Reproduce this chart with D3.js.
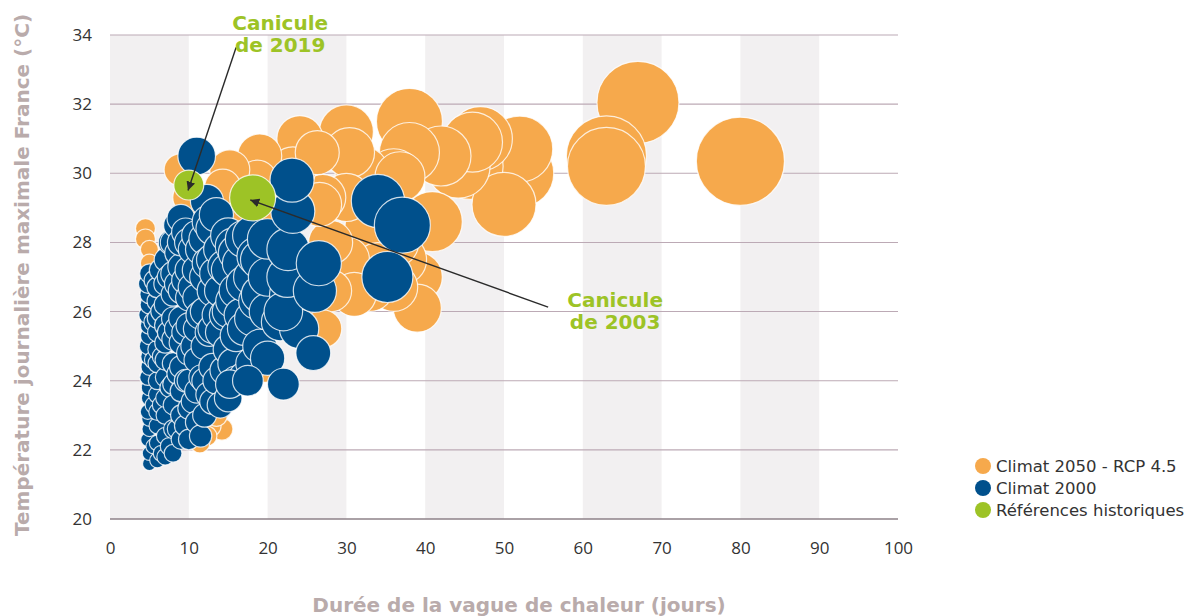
<!DOCTYPE html>
<html><head><meta charset="utf-8">
<script src="https://cdn.jsdelivr.net/npm/d3@7"></script>
<style>
html,body{margin:0;padding:0;background:#fff;}
svg{display:block;}
</style></head>
<body>
<svg id="chart" width="1189" height="616"></svg>
<script>
// ---- DATA ----
// [durée (jours), température max (°C), indice de sévérité (taille)]
const climat2050 = [
  [80,30.35,1150],[67,32.05,997],[63,30.5,950],[63,30.2,900],[52,30.7,646],[52,30.0,685],[50,29.1,607],
  [47,31.0,607],[46,30.9,534],[45.7,30.2,646],[44.2,30.2,600],[42,30.5,534],[40.9,28.6,534],
  [38,31.5,646],[38,30.6,534],[36.8,29.9,370],[36,29.9,465],[39,27.0,370],[39,26.1,342],[37,27.5,370],
  [36,28,370],[36,26.7,342],[34,27.3,342],[33,28.5,370],[33,26.7,342],[31,26.5,287],[32,30.0,432],
  [30,31.2,432],[30.4,30.6,370],[30,29.3,342],[30,27.5,314],[28,28,287],[28,26.6,261],[27,29.3,314],
  [27,25.5,214],[26.6,29.1,287],[26.3,30.6,287],[24.1,31.0,314],[24,26,237],[23.2,30.1,314],
  [20,29,237],[19,30.5,287],[18.7,29.8,237],[17,29,214],[15.2,30.1,237],[14.3,29.6,192],[12,28.8,171],
  [10,29.3,152],[8.9,30.1,152],
  [4.5,28.4,59],[4.5,28.1,59],[5,27.8,48],[5,27.4,48],
  [14.2,22.6,72],[12.7,22.7,72],[12.3,22.4,59],[11.4,22.2,59],[10,22.5,48],[13.5,23,72],[19.7,24.3,85]
];
const climat2000 = [
  [5,21.6,28],[5,21.9,30],[4.8,22.3,30],[5,22.6,33],[5,22.9,35],[4.8,23.1,34],[5,23.5,38],[5,23.8,39],
  [4.8,24.1,39],[5,24.4,42],[5,24.7,44],[4.8,25.0,43],[5,25.3,47],[5,25.6,48],[4.8,25.9,48],[5,26.2,51],
  [5,26.5,53],[4.8,26.8,52],[5,27.1,56],
  [5.5,22.1,33],[5.5,23.3,40],[5.5,24.6,47],[5.5,25.7,53],[5.6,26.9,60],
  [6,21.7,34],[6,22.2,37],[6,22.7,40],[6,23.1,43],[6,23.6,46],[6,24.0,48],[6,24.5,51],[6,24.9,53],
  [6,25.4,56],[6,25.8,59],[6,26.3,62],[6,26.7,64],
  [6.5,21.9,38],[6.5,23.3,47],[6.6,24.7,56],[6.5,26.0,65],[6.4,27.2,73],
  [7,21.8,41],[7,22.4,45],[7,23.0,49],[7,23.5,53],[7,24.1,57],[7,24.6,60],[7,25.1,64],[7,25.6,67],
  [7,26.2,71],[7,26.8,76],[7.1,27.5,82],
  [7.5,22.1,46],[7.6,23.8,59],[7.4,25.4,71],[7.5,27.0,83],[7.7,28.0,90],
  [8,21.9,47],[8,22.6,53],[8,23.3,58],[8,23.9,63],[8,24.5,68],[8,25.2,74],[8,25.8,78],[8,26.5,84],
  [8,27.1,89],[8,28.0,96],[8.5,28.5,106],
  [8.5,22.6,56],[8.6,24.2,70],[8.4,25.5,81],[8.5,26.8,92],[8.6,27.7,100],
  [9,22.3,57],[9,23.0,63],[9,23.7,69],[9,24.4,76],[9,25.1,82],[9,25.8,88],[9,26.6,95],[9,27.3,102],
  [9,28.0,108],[9,28.7,114],
  [9.5,22.7,64],[9.6,24.0,76],[9.4,25.4,89],[9.5,26.9,103],[9.6,28.3,117],
  [10,22.3,63],[10,23.2,72],[10,24.0,80],[10,24.8,88],[10,25.6,96],[10,26.4,104],[10,27.2,112],[10,28.0,120],
  [10.5,23.4,78],[10.6,25.0,95],[10.4,26.7,112],[10.5,27.8,124],
  [11,22.8,75],[11,23.7,85],[11,24.6,95],[11,25.5,105],[11,26.4,114],[11,27.2,123],[11,28.2,134],
  [11.5,22.4,74],[11.6,24.1,93],[11.4,25.9,114],[11.5,27.8,136],
  [12,23.0,84],[12,24.0,96],[12,25.0,108],[12,26.0,120],[12,27.0,132],[12,28.1,145],[12.3,29.2,162],
  [12.5,23.6,95],[12.6,25.4,118],[12.4,27.4,143],[12.5,28.6,158],
  [13,23.4,96],[13,24.4,109],[13,25.5,124],[13,26.6,138],[13,27.5,150],[13,28.4,161],
  [13.5,24.0,108],[13.6,25.9,134],[13.4,27.1,150],[13.5,28.8,173],
  [14,23.3,102],[14.5,24.3,121],[14,25.4,131],[14,26.6,148],[14,27.8,165],
  [14.6,25.9,145],[14.5,27.3,160],
  [15,23.5,113],[15,24.9,134],[15,26.0,150],[15,27.2,168],[15,28.2,183],
  [15.6,24.5,135],[15.5,26.3,160],[15.6,27.9,185],
  [16,24.0,128],[16,25.3,149],[16,26.6,170],[16,27.7,187],
  [16.6,25.9,165],[16.5,27.4,185],
  [17,24.1,138],[17,25.5,162],[17,26.8,184],[17,28.1,206],
  [18,24.5,153],[18,25.8,176],[18,27.0,198],[18,28.2,220],
  [18.6,26.3,190],[18.5,27.6,210],
  [19,25.0,171],[19,26.5,200],[19,27.5,219],[20,24.65,174],
  [20,26.0,200],[20,27.0,220],[20,28.1,242],
  [15.2,23.9,120],[17.5,24,140],[21.6,25.7,210],[22.8,26.5,240],[24,25.5,228],
  [22,23.9,150],[22,26.0,220],[22.5,27.0,248],[22.6,27.8,267],[23.2,28.9,287],[23.1,29.8,287],
  [25.8,24.8,180],[26,26.6,276],[26.5,27.4,302],
  [11,30.5,210],
  [34,29.2,420],[37.1,28.5,465],[35.2,27.0,386]
];
const referencesHistoriques = [
  [10.0,29.66,133],[18.1,29.29,314]
];
const seriesNames = ["Climat 2050 - RCP 4.5","Climat 2000","Références historiques"];
const seriesColors = ["#f6a94c","#00508c","#9dc326"];
const xTicks = [0,10,20,30,40,50,60,70,80,90,100];
const yTicks = [20,22,24,26,28,30,32,34];
const annotations = [
  {lines:["Canicule","de 2019"], label:[21.6,34.15], from:[16.0,33.64], to:[9.9,29.5]},
  {lines:["Canicule","de 2003"], label:[64.1,26.13], from:[55.6,26.13], to:[17.8,29.23]}
];

// ---- CHART ----
const svg = d3.select("#chart");
const x = d3.scaleLinear().domain([0,100]).range([110,898]);
const y = d3.scaleLinear().domain([20,34]).range([519,35]);
const r = d3.scaleSqrt().domain([0,1200]).range([0,45]);

// alternating bands
const bands = xTicks.slice(0,-1).filter((d,i)=>i%2===0);
svg.append("g").selectAll("rect").data(bands).join("rect")
  .attr("x", d=>x(d)).attr("width", d=>x(d+10)-x(d))
  .attr("y", y(34)).attr("height", y(20)-y(34))
  .attr("fill","#f2f0f1");

// gridlines
svg.append("g").selectAll("line").data(yTicks).join("line")
  .attr("x1", x(0)).attr("x2", x(100))
  .attr("y1", d=>y(d)).attr("y2", d=>y(d))
  .attr("stroke", d=> d===20 ? "#8e8288" : "#bcaab5")
  .attr("stroke-width", d=> d===20 ? 1.3 : 1.1);

// axes labels
const yAxis = d3.axisLeft(y).tickValues(yTicks).tickSize(0).tickPadding(18);
const gy = svg.append("g").attr("transform",`translate(${x(0)},0)`).call(yAxis);
gy.select(".domain").remove();
gy.selectAll("text").attr("font-family","'Open Sans', sans-serif").attr("font-size","17px").attr("fill","#333");

const xAxis = d3.axisBottom(x).tickValues(xTicks).tickSize(0).tickPadding(23);
const gx = svg.append("g").attr("transform",`translate(0,${y(20)})`).call(xAxis);
gx.select(".domain").remove();
gx.selectAll("text").attr("font-family","'Open Sans', sans-serif").attr("font-size","17px").attr("fill","#333");

// bubbles
const allSeries = [climat2050, climat2000, referencesHistoriques];
allSeries.forEach((data,i)=>{
  const sorted = data.slice().sort((a,b)=>b[2]-a[2]);
  svg.append("g").selectAll("circle").data(i===1 ? data : sorted).join("circle")
    .attr("cx", d=>x(d[0])).attr("cy", d=>y(d[1])).attr("r", d=>r(d[2]))
    .attr("fill", seriesColors[i])
    .attr("stroke","#ffffff").attr("stroke-opacity",0.8).attr("stroke-width",1.2);
});

// annotations
const defs = svg.append("defs");
defs.append("marker").attr("id","arrow").attr("viewBox","0 0 10 10")
  .attr("refX",10).attr("refY",5).attr("markerWidth",9).attr("markerHeight",9)
  .attr("markerUnits","userSpaceOnUse").attr("orient","auto")
  .append("path").attr("d","M0,0 L10,5 L0,10 Z").attr("fill","#2b2b2b");

annotations.forEach(a=>{
  svg.append("line")
    .attr("x1",x(a.from[0])).attr("y1",y(a.from[1]))
    .attr("x2",x(a.to[0])).attr("y2",y(a.to[1]))
    .attr("stroke","#2b2b2b").attr("stroke-width",1.4)
    .attr("marker-end","url(#arrow)");
  const t = svg.append("text").attr("text-anchor","middle")
    .attr("font-family","'DejaVu Sans', sans-serif").attr("font-weight","bold")
    .attr("font-size","20px").attr("fill","#9dc326");
  a.lines.forEach((l,k)=>{
    t.append("tspan").attr("x",x(a.label[0])).attr("y",y(a.label[1])+k*22).text(l);
  });
});

// axis titles
svg.append("text").attr("text-anchor","middle")
  .attr("transform",`translate(29,${(y(20)+y(34))/2 - 2}) rotate(-90)`)
  .attr("font-family","'DejaVu Sans', sans-serif").attr("font-weight","bold")
  .attr("font-size","20px").attr("fill","#b9abab")
  .text("Température journalière maximale France (°C)");
svg.append("text").attr("text-anchor","middle")
  .attr("x",519).attr("y",612)
  .attr("font-family","'DejaVu Sans', sans-serif").attr("font-weight","bold")
  .attr("font-size","20px").attr("fill","#b9abab")
  .text("Durée de la vague de chaleur (jours)");

// legend
const lg = svg.append("g").attr("transform","translate(983,466)");
seriesNames.forEach((n,i)=>{
  lg.append("circle").attr("cx",0).attr("cy",i*22).attr("r",8).attr("fill",seriesColors[i]);
  lg.append("text").attr("x",13).attr("y",i*22+6)
    .attr("font-family","'DejaVu Sans', sans-serif").attr("font-size","16.5px").attr("fill","#333")
    .text(n);
});
</script>
</body></html>
